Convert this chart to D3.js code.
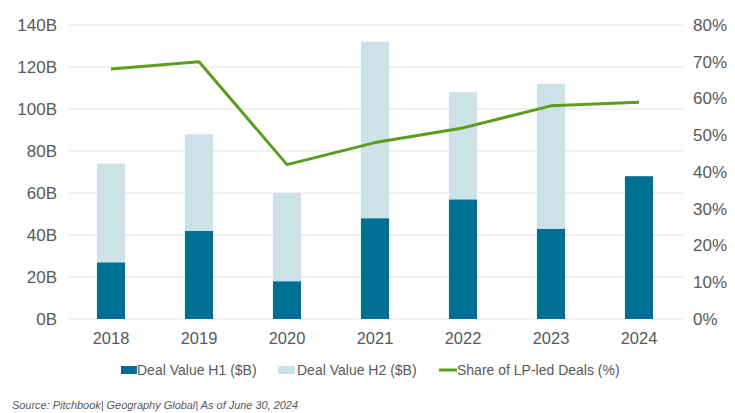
<!DOCTYPE html>
<html>
<head>
<meta charset="utf-8">
<script src="https://cdn.jsdelivr.net/npm/d3@7"></script>
<style>
  body { margin: 0; background: #fff; }
  svg { display: block; font-family: "Liberation Sans", Arial, sans-serif; }
</style>
</head>
<body>
<div id="chart"></div>
<script>
var years = ['2018', '2019', '2020', '2021', '2022', '2023', '2024'];
var dealH1 = [27, 42, 18, 48, 57, 43, 68];
var dealH2 = [47, 46, 42, 84, 51, 69, 0];
var lpShare = [68, 70, 42, 48, 52, 58, 59];
var leftTicks = [0, 20, 40, 60, 80, 100, 120, 140];
var rightTicks = [0, 10, 20, 30, 40, 50, 60, 70, 80];

var width = 735, height = 413;
// note: "top" is taken by window.top, so use plot* names
var plotLeft = 67, plotRight = 683, plotTop = 25, plotBottom = 319;
var textColor = '#595959';

var svg = d3.select('#chart').append('svg')
  .attr('width', width)
  .attr('height', height);

var x = d3.scaleBand()
  .domain(years)
  .range([plotLeft, plotRight])
  .paddingInner(0.68)
  .paddingOuter(0.34);

var y = d3.scaleLinear().domain([0, 140]).range([plotBottom, plotTop]);
var y2 = d3.scaleLinear().domain([0, 80]).range([plotBottom, plotTop]);

// gridlines
svg.append('g')
  .selectAll('line')
  .data(leftTicks)
  .join('line')
  .attr('x1', plotLeft)
  .attr('x2', plotRight)
  .attr('y1', function(d) { return y(d); })
  .attr('y2', function(d) { return y(d); })
  .style('stroke', '#e3e3e3')
  .style('stroke-width', 1);

// left axis
var leftAxis = svg.append('g')
  .attr('transform', 'translate(' + (plotLeft - 10) + ',0)')
  .call(d3.axisLeft(y).tickValues(leftTicks).tickSize(0).tickPadding(0)
    .tickFormat(function(d) { return d + 'B'; }));
leftAxis.select('.domain').remove();
leftAxis.selectAll('text')
  .style('font-size', '17px')
  .style('fill', textColor)
  .style('font-family', '"Liberation Sans", Arial, sans-serif');

// right axis
var rightAxis = svg.append('g')
  .attr('transform', 'translate(' + (plotRight + 10) + ',0)')
  .call(d3.axisRight(y2).tickValues(rightTicks).tickSize(0).tickPadding(0)
    .tickFormat(function(d) { return d + '%'; }));
rightAxis.select('.domain').remove();
rightAxis.selectAll('text')
  .style('font-size', '17px')
  .style('fill', textColor)
  .style('font-family', '"Liberation Sans", Arial, sans-serif');

// bottom axis
var bottomAxis = svg.append('g')
  .attr('transform', 'translate(0,' + (plotBottom + 13) + ')')
  .call(d3.axisBottom(x).tickSize(0).tickPadding(0));
bottomAxis.select('.domain').remove();
bottomAxis.selectAll('text')
  .style('font-size', '16.5px')
  .style('fill', textColor)
  .style('font-family', '"Liberation Sans", Arial, sans-serif');

// bars
var rows = years.map(function(yr, i) {
  return { year: yr, h1: dealH1[i], h2: dealH2[i] };
});

svg.append('g')
  .selectAll('rect')
  .data(rows)
  .join('rect')
  .attr('x', function(d) { return x(d.year); })
  .attr('width', x.bandwidth())
  .attr('y', function(d) { return y(d.h1); })
  .attr('height', function(d) { return y(0) - y(d.h1); })
  .style('fill', '#006f94');

svg.append('g')
  .selectAll('rect')
  .data(rows.filter(function(d) { return d.h2 > 0; }))
  .join('rect')
  .attr('x', function(d) { return x(d.year); })
  .attr('width', x.bandwidth())
  .attr('y', function(d) { return y(d.h1 + d.h2); })
  .attr('height', function(d) { return y(d.h1) - y(d.h1 + d.h2); })
  .style('fill', '#cde1e9');

// line
var line = d3.line()
  .x(function(d, i) { return x(years[i]) + x.bandwidth() / 2; })
  .y(function(d) { return y2(d); });

svg.append('path')
  .datum(lpShare)
  .attr('d', line)
  .style('fill', 'none')
  .style('stroke', '#5b9e1e')
  .style('stroke-width', 3)
  .style('stroke-linejoin', 'round');

// legend
var legendY = 370;
var legend = svg.append('g').style('font-size', '14px').style('fill', textColor);

legend.append('rect')
  .attr('x', 121).attr('y', legendY - 4).attr('width', 16).attr('height', 8)
  .style('fill', '#006f94');
legend.append('text')
  .attr('x', 137).attr('y', legendY + 5)
  .text('Deal Value H1 ($B)');

legend.append('rect')
  .attr('x', 278).attr('y', legendY - 4).attr('width', 17).attr('height', 8)
  .style('fill', '#cde1e9');
legend.append('text')
  .attr('x', 297).attr('y', legendY + 5)
  .text('Deal Value H2 ($B)');

legend.append('line')
  .attr('x1', 439).attr('x2', 457).attr('y1', legendY).attr('y2', legendY)
  .style('stroke', '#5b9e1e').style('stroke-width', 3);
legend.append('text')
  .attr('x', 457).attr('y', legendY + 5)
  .text('Share of LP-led Deals (%)');

// source note
svg.append('text')
  .attr('x', 12)
  .attr('y', 409)
  .attr('textLength', 286)
  .attr('lengthAdjust', 'spacingAndGlyphs')
  .style('font-size', '11.5px')
  .style('font-style', 'italic')
  .style('fill', textColor)
  .text('Source: Pitchbook| Geography Global| As of June 30, 2024');
</script>
</body>
</html>
